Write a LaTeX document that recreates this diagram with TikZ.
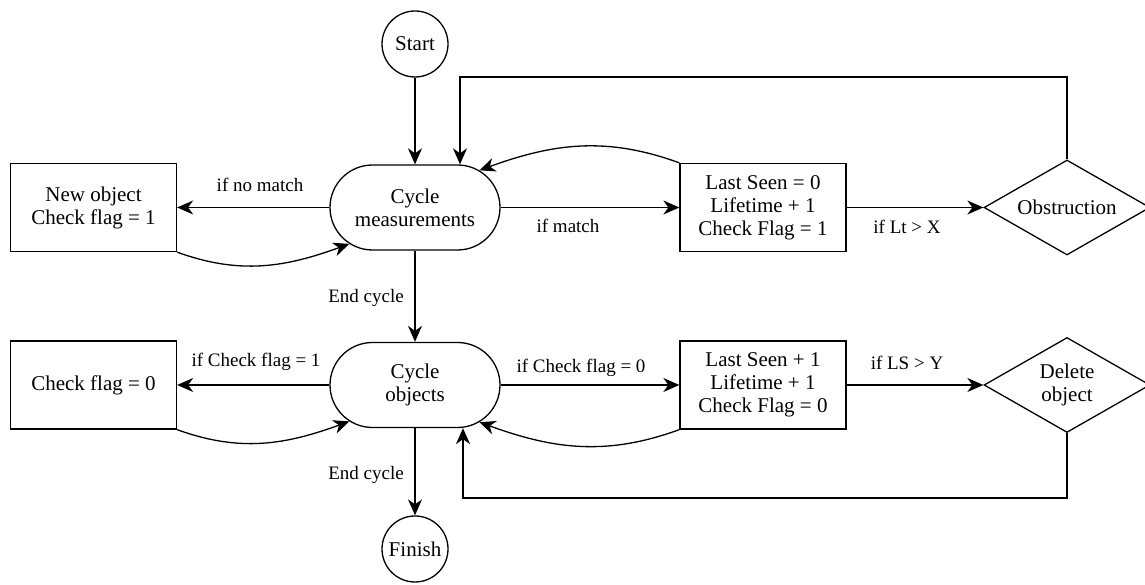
\documentclass[tikz,border=0pt]{standalone}
\usepackage{fontspec}
\setmainfont{Liberation Serif}
\usetikzlibrary{arrows.meta,shapes.geometric,shapes.misc}
\newcommand{\nodefont}{\fontsize{21}{23}\selectfont}
\newcommand{\labelfont}{\fontsize{19}{22}\selectfont}
\begin{document}
\begin{tikzpicture}[x=1pt,y=1pt,
  chartnode/.style={draw, line width=1.3pt, font=\nodefont, align=center, inner sep=0pt},
  termnode/.style={chartnode, circle, minimum size=66pt},
  procnode/.style={chartnode, rectangle, minimum width=166pt, minimum height=88pt},
  loopnode/.style={chartnode, rounded rectangle, minimum width=170pt, minimum height=85pt},
  decidenode/.style={chartnode, diamond, shape aspect=1.75, minimum width=166pt, minimum height=95pt},
  edgelabel/.style={font=\labelfont, inner sep=0pt},
  arr/.style={line width=1.3pt, -{Stealth[length=16pt, width=14pt, inset=5pt]}},
]
\useasboundingbox (0,0) rectangle (1145,585);

% terminals
\node[termnode] (start)  at (415,541) {Start};
\node[termnode] (finish) at (415,36)  {Finish};

% measurement loop
\node[loopnode]   (cm)     at (415,377.5) {Cycle\\measurements};
\node[procnode]   (newobj) at (93.5,377.5) {New object\\Check flag = 1};
\node[procnode]   (ls0)    at (763,377.5) {Last Seen = 0\\Lifetime + 1\\Check Flag = 1};
\node[decidenode] (obs)    at (1067,377.5) {Obstruction};

% object loop
\node[loopnode]   (co)  at (415,200) {Cycle\\objects};
\node[procnode]   (cf0) at (93.5,200) {Check flag = 0};
\node[procnode]   (ls1) at (763,200) {Last Seen + 1\\Lifetime + 1\\Check Flag = 0};
\node[decidenode] (del) at (1067,200) {Delete\\object};

% edge labels
\node[edgelabel] (lnomatch) at (260,400) {if no match};
\node[edgelabel] (lmatch)   at (568,359) {if match};
\node[edgelabel] (llt)      at (907,358) {if Lt > X};
\node[edgelabel] (lend1)    at (366,287) {End cycle};
\node[edgelabel] (lcf1)     at (256,223) {if Check flag = 1};
\node[edgelabel] (lcf0)     at (581,217) {if Check flag = 0};
\node[edgelabel] (lls)      at (907,222) {if LS > Y};
\node[edgelabel] (lend2)    at (366,110) {End cycle};

% straight connectors
\draw[arr] (start.south) -- (cm.north);
\draw[arr] (cm.west) -- (newobj.east);
\draw[arr] (cm.east) -- (ls0.west);
\draw[arr] (ls0.east) -- (obs.west);
\draw[arr] (cm.south) -- (co.north);
\draw[arr] (co.west) -- (cf0.east);
\draw[arr] (co.east) -- (ls1.west);
\draw[arr] (ls1.east) -- (del.west);
\draw[arr] (co.south) -- (finish.north);

% return curves
\draw[arr] (newobj.south east) to[out=-20,in=200] (cm.209);
\draw[arr] (ls0.north west) to[out=160,in=20] (cm.30);
\draw[arr] (cf0.south east) to[out=-20,in=200] (co.209);
\draw[arr] (ls1.south west) to[out=200,in=-20] (co.330);

% feedback loops from the decisions
\coordinate (topturn) at (460,508);
\draw[arr] (obs.north) |- (topturn) -- (topturn |- cm.north);
\coordinate (botturn) at (463,87);
\draw[arr] (del.south) |- (botturn) -- (botturn |- co.south);
\end{tikzpicture}
\end{document}
